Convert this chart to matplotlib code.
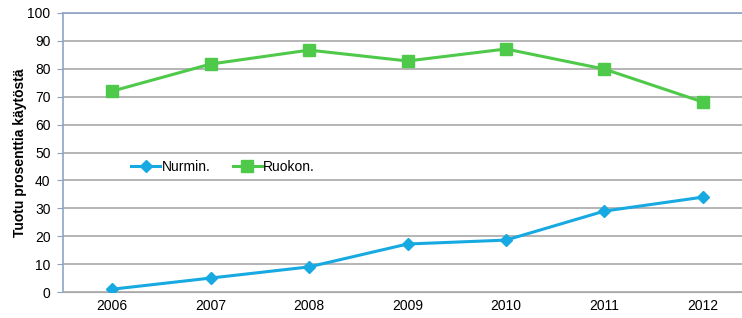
import matplotlib
matplotlib.use("Agg")
import matplotlib.pyplot as plt

years = ["2006", "2007", "2008", "2009", "2010", "2011", "2012"]
nurmin = [1.0, 5.0, 9.0, 17.2, 18.6, 29.0, 34.0]
ruokon = [72.0, 81.7, 86.7, 82.8, 87.1, 79.9, 68.1]
yticks = [0, 10, 20, 30, 40, 50, 60, 70, 80, 90, 100]

plt.rcParams['font.family'] = ['Liberation Sans', 'DejaVu Sans']

W, H = 742, 318
fig = plt.figure(figsize=(W / 100, H / 100), dpi=100)
left, right, top, bottom = 63, 752, 13, 292
ax = fig.add_axes([left / W, 1 - bottom / H, (right - left) / W, (bottom - top) / H])

x = list(range(len(years)))
ax.plot(x, nurmin, color="#17A9E1", lw=2.2, marker="D", ms=6.5, label="Nurmin.", zorder=3)
ax.plot(x, ruokon, color="#4FC94A", lw=2.2, marker="s", ms=8, label="Ruokon.", zorder=3)

ax.set_xlim(-0.5, 6.5)
ax.set_ylim(0, 100)
ax.set_xticks(x)
ax.set_xticklabels(years)
ax.set_yticks(yticks)
ax.tick_params(axis="x", length=0, labelsize=10, pad=5)
ax.tick_params(axis="y", length=4, color="#8EA0C0", labelsize=10, pad=5)
ax.yaxis.grid(True, color="#A8A8A8", lw=1.2)
ax.set_axisbelow(True)
ax.spines["right"].set_visible(False)
ax.spines["top"].set_color("#8EA4C8")
ax.spines["left"].set_color("#8EA4C8")
ax.spines["bottom"].set_color("#A8A8A8")
ax.spines["left"].set_linewidth(1.2)
ax.spines["top"].set_linewidth(1.2)

ax.set_ylabel("Tuotu prosenttia käytöstä", fontsize=10, fontweight="bold", labelpad=0)

ax.legend(loc="center left", bbox_to_anchor=((131 - left) / (right - left), 1 - (167 - top) / (bottom - top)),
          ncol=2, frameon=False, fontsize=10, handlelength=2.1, columnspacing=1.6,
          handletextpad=0.1, borderaxespad=0, borderpad=0)

fig.savefig("out.png", dpi=100)
